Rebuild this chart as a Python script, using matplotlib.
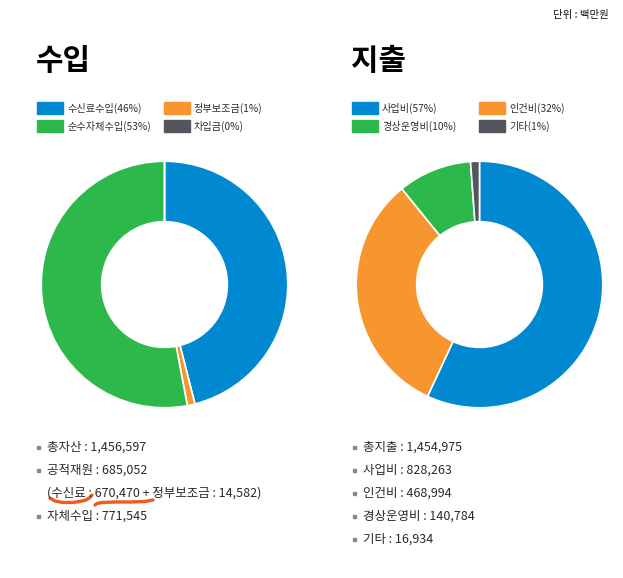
import numpy as np
import matplotlib
matplotlib.use("Agg")
from matplotlib import pyplot as plt

plt.rcParams['font.family'] = ['Noto Sans CJK KR', 'DejaVu Sans']

# data (단위: 백만원)
income_labels = ["수신료수입(46%)", "정부보조금(1%)", "순수자체수입(53%)", "차입금(0%)"]
income_values = [670470, 14582, 771545, 0]
expense_labels = ["사업비(57%)", "인건비(32%)", "경상운영비(10%)", "기타(1%)"]
expense_values = [828263, 468994, 140784, 16934]
colors = ["#0088d1", "#f7962f", "#2db84b", "#53565c"]

income_notes = ["총자산 : 1,456,597", "공적재원 : 685,052",
                "(수신료 : 670,470 + 정부보조금 : 14,582)", "자체수입 : 771,545"]
income_bullets = [True, True, False, True]
expense_notes = ["총지출 : 1,454,975", "사업비 : 828,263", "인건비 : 468,994",
                 "경상운영비 : 140,784", "기타 : 16,934"]

W, H = 623, 578
fig = plt.figure(figsize=(W / 100, H / 100), dpi=100)


def px(x, y):
    return x / W, 1 - y / H


def donut(cx, cy, r, values):
    ax = fig.add_axes([(cx - r) / W, (H - cy - r) / H, 2 * r / W, 2 * r / H])
    vals = [v if v > 0 else 1e-9 for v in values]
    ax.pie(vals, colors=colors, startangle=90, counterclock=False, radius=1,
           wedgeprops=dict(width=0.49, edgecolor="white", linewidth=1.2))
    ax.set_xlim(-1.01, 1.01)
    ax.set_ylim(-1.01, 1.01)
    ax.set_aspect("equal")
    ax.axis("off")


donut(164.5, 284.5, 124.5, income_values)
donut(479.5, 284.5, 124.5, expense_values)

fig.text(*px(609, 15), "단위 : 백만원", ha="right", va="center", fontsize=7.5,
         fontweight="medium", color="#111111")


def block(x0, title, labels, x2):
    fig.text(*px(x0 - 1, 61), title, ha="left", va="center", fontsize=21.5,
             fontweight="bold", color="black")
    pos = [(x0, 108), (x2, 108), (x0, 126), (x2, 126)]
    for (x, y), lab, c in zip(pos, labels, colors):
        fig.patches.append(plt.Rectangle(px(x, y + 6), 26 / W, 12 / H, transform=fig.transFigure,
                                         color=c, figure=fig))
        fig.text(*px(x + 30, y), lab, ha="left", va="center", fontsize=7.3, color="#2e2e2e")


block(37, "수입", income_labels, 164)
block(352, "지출", expense_labels, 479)


def notes(x0, tx, rows, bullets, y0=447, dy=23):
    for i, (t, b) in enumerate(zip(rows, bullets)):
        y = y0 + i * dy
        if b:
            fig.patches.append(plt.Rectangle(px(x0, y + 2), 3 / W, 3 / H, transform=fig.transFigure,
                                             color="#888888", figure=fig))
        fig.text(*px(tx, y), t, ha="left", va="center", fontsize=9, color="#2a2a2a")


notes(37, 47, income_notes, income_bullets)
notes(353, 363, expense_notes, [True] * len(expense_notes))

# hand-drawn underline marks
red = "#f05a1e"
ux = np.array([50, 55, 63, 72, 80, 86, 90, 92])
uy = np.array([498, 501, 502.5, 502.5, 501.5, 500, 497.5, 495])
fig.add_artist(plt.Line2D(ux / W, 1 - uy / H, transform=fig.transFigure, color=red,
                          linewidth=2.4, solid_capstyle="round"))
ux = np.array([95, 97, 102, 115, 130, 145, 153])
uy = np.array([505, 503.5, 502.5, 502, 502, 501.5, 500])
fig.add_artist(plt.Line2D(ux / W, 1 - uy / H, transform=fig.transFigure, color=red,
                          linewidth=2.4, solid_capstyle="round"))

fig.savefig("out.png", dpi=100)
